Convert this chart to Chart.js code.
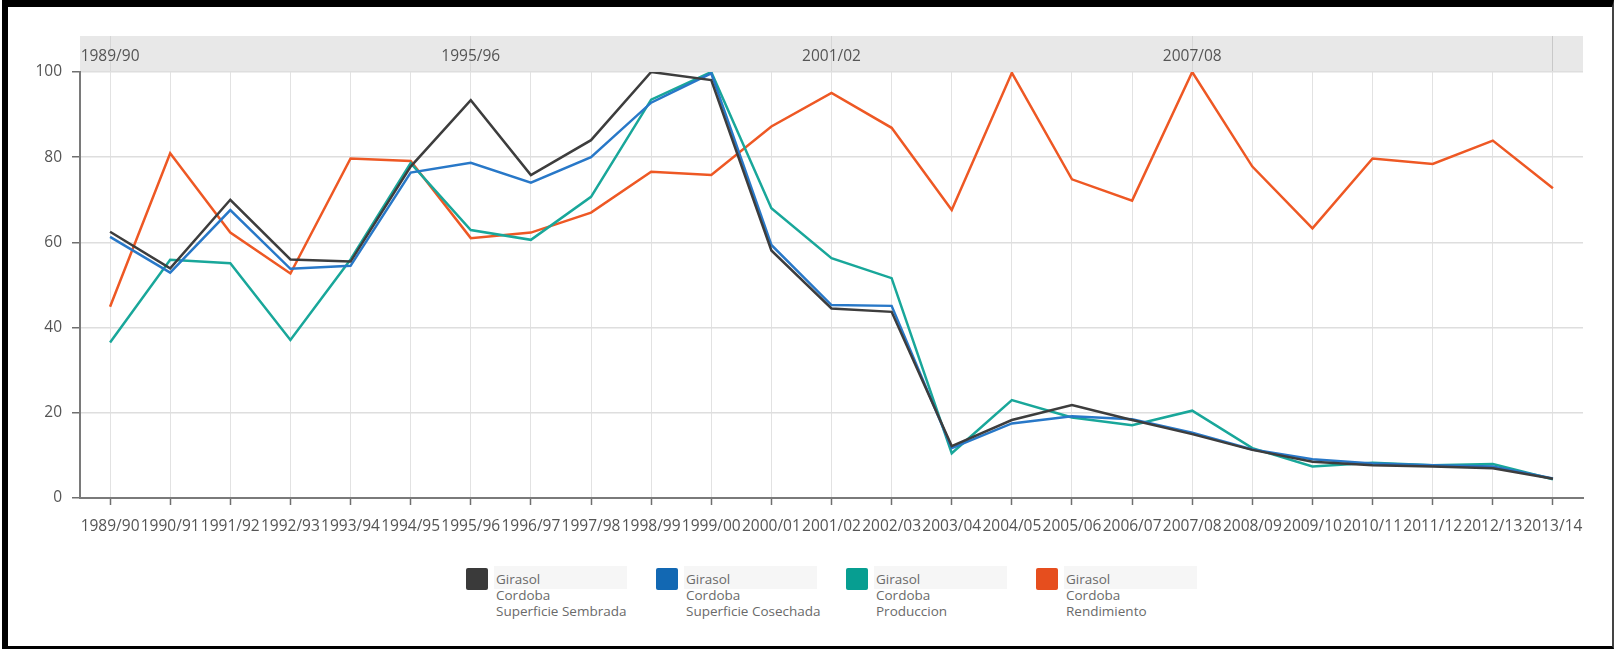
<!DOCTYPE html>
<html>
<head>
<meta charset="utf-8">
<script src="https://cdn.jsdelivr.net/npm/chart.js@4.4.1/dist/chart.umd.min.js"></script>
<style>
  html, body { margin: 0; padding: 0; background: #fff; }
  #wrap { position: relative; width: 1614px; height: 649px; overflow: hidden; background: #fff; }
  #chart { position: absolute; left: 0; top: 0; }
  #frame {
    position: absolute; left: 2px; top: 0; width: 1612px; height: 649px; box-sizing: border-box;
    border-left: 6px solid #000; border-top: 7px solid #000;
    border-right: 2px solid #444; border-bottom: 3px solid #000;
    pointer-events: none;
  }
  .item { position: absolute; top: 568px; }
  .swatch { position: absolute; left: 0; top: 0; width: 22px; height: 22px; border-radius: 2px; }
  .hl { position: absolute; left: 28px; top: -2px; width: 133px; height: 23px; background: #f6f6f6; }
  .txt {
    position: absolute; left: 30px; top: 3px; white-space: nowrap;
    font-family: 'Open Sans', sans-serif; font-size: 13.5px; line-height: 16px; color: #6a6a6a;
  }
</style>
</head>
<body>
<div id="wrap">
  <canvas id="chart" width="1614" height="560"></canvas>
  <div id="legend"></div>
  <div id="frame"></div>
</div>
<script>
// Campañas agrícolas (eje X)
const seasons = [
  '1989/90', '1990/91', '1991/92', '1992/93', '1993/94', '1994/95', '1995/96', '1996/97',
  '1997/98', '1998/99', '1999/00', '2000/01', '2001/02', '2002/03', '2003/04', '2004/05',
  '2005/06', '2006/07', '2007/08', '2008/09', '2009/10', '2010/11', '2011/12', '2012/13', '2013/14'
];

// Series en índice (máximo = 100)
const superficieSembrada = [62.5, 53.9, 70.0, 56.0, 55.5, 77.8, 93.4, 75.8, 84.0, 100, 98.1, 58.1, 44.5,
  43.7, 12.2, 18.3, 21.8, 18.3, 15.0, 11.3, 8.5, 7.7, 7.4, 7.0, 4.5];
const superficieCosechada = [61.3, 52.9, 67.6, 53.8, 54.5, 76.4, 78.7, 74.0, 80.0, 92.8, 99.7, 59.4, 45.3,
  45.1, 11.7, 17.5, 19.2, 18.5, 15.3, 11.4, 9.1, 8.1, 7.7, 7.4, 4.6];
const produccion = [36.5, 55.9, 55.1, 37.1, 56.0, 78.6, 62.9, 60.6, 70.7, 93.5, 100, 68.0, 56.3,
  51.6, 10.5, 23.0, 18.9, 17.1, 20.5, 11.7, 7.4, 8.3, 7.7, 8.0, 4.4];
const rendimiento = [44.9, 80.9, 62.3, 52.7, 79.7, 79.1, 61.0, 62.3, 67.0, 76.6, 75.8, 87.2, 95.1,
  86.9, 67.6, 99.8, 74.8, 69.8, 100, 77.8, 63.3, 79.7, 78.4, 83.9, 72.7];

// Etiquetas de la leyenda (tres renglones) y eje Y
const seriesNames = [
  ['Girasol', 'Cordoba', 'Superficie Sembrada'],
  ['Girasol', 'Cordoba', 'Superficie Cosechada'],
  ['Girasol', 'Cordoba', 'Produccion'],
  ['Girasol', 'Cordoba', 'Rendimiento']
];
const yTicks = [0, 20, 40, 60, 80, 100];

const lineColors = ['#3d3d3d', '#2878c8', '#19a79a', '#ee5824'];
const swatchColors = ['#3a3a3a', '#1268b3', '#079e91', '#e64e1e'];
const seriesValues = [superficieSembrada, superficieCosechada, produccion, rendimiento];

const axisFont = { family: "'Open Sans', sans-serif", size: 15.5 };
const labelColor = '#555';

new Chart(document.getElementById('chart'), {
  type: 'line',
  data: {
    labels: seasons,
    datasets: seriesValues.map((vals, i) => ({
      label: seriesNames[i].join(' '),
      data: vals,
      borderColor: lineColors[i],
      backgroundColor: lineColors[i],
      borderWidth: 2.5,
      pointRadius: 0,
      tension: 0,
      fill: false
    }))
  },
  options: {
    responsive: false,
    animation: false,
    devicePixelRatio: 1,
    layout: { padding: { left: 20, right: 31, top: 36, bottom: 0 } },
    plugins: { legend: { display: false }, tooltip: { enabled: false } },
    scales: {
      x: {
        type: 'category',
        position: 'bottom',
        offset: true,
        grid: { offset: false, color: '#e2e2e2', lineWidth: 1, tickColor: '#6f6f6f', tickLength: 7, tickWidth: 1.5 },
        border: { color: '#7a7a7a', width: 2 },
        ticks: { autoSkip: false, maxRotation: 0, minRotation: 0, padding: 12, color: labelColor, font: axisFont },
        afterFit: s => { s.height = 62; }
      },
      x2: {
        type: 'category',
        position: 'top',
        offset: true,
        backgroundColor: '#e8e8e8',
        grid: {
          offset: false,
          drawOnChartArea: false,
          tickLength: 36,
          lineWidth: 1,
          color: ctx => (ctx.index % 6 === 0 ? (ctx.index === seasons.length - 1 ? '#c8c8c8' : '#d6d6d6') : 'rgba(0,0,0,0)')
        },
        border: { display: false },
        ticks: {
          autoSkip: false, maxRotation: 0, minRotation: 0, padding: -30,
          color: labelColor, font: axisFont,
          callback: (v, i) => (i % 6 === 0 && i < seasons.length - 1 ? seasons[i] : '')
        },
        afterFit: s => { s.height = 36; }
      },
      y: {
        min: 0,
        max: 100,
        afterBuildTicks: s => { s.ticks = yTicks.map(v => ({ value: v })); },
        grid: { color: '#dedede', lineWidth: 1.5, tickColor: '#6f6f6f', tickLength: 8, tickWidth: 1.5 },
        border: { color: '#7a7a7a', width: 2 },
        ticks: { padding: 10, color: labelColor, font: axisFont },
        afterFit: s => { s.width = 60; }
      }
    }
  }
});

// Leyenda en HTML (cada serie en tres renglones)
const legend = document.getElementById('legend');
const legendLeft = [466, 656, 846, 1036];
seriesNames.forEach((lines, i) => {
  const item = document.createElement('div');
  item.className = 'item';
  item.style.left = legendLeft[i] + 'px';
  const sw = document.createElement('div');
  sw.className = 'swatch';
  sw.style.background = swatchColors[i];
  const hl = document.createElement('div');
  hl.className = 'hl';
  const txt = document.createElement('div');
  txt.className = 'txt';
  txt.innerHTML = lines.join('<br>');
  item.appendChild(sw);
  item.appendChild(hl);
  item.appendChild(txt);
  legend.appendChild(item);
});
</script>
</body>
</html>
